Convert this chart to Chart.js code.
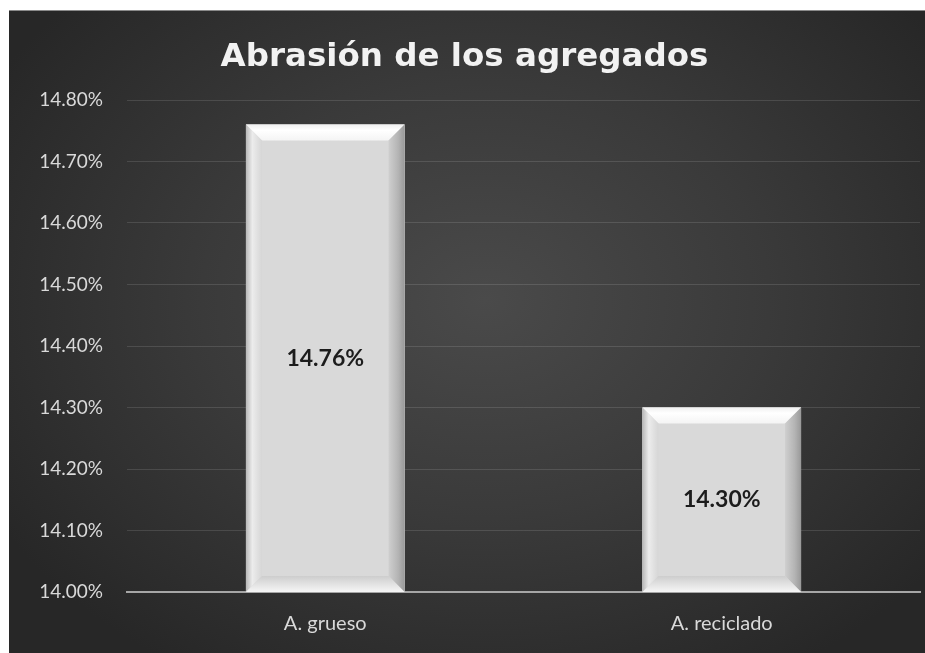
<!DOCTYPE html>
<html>
<head>
<meta charset="utf-8">
<script src="https://cdn.jsdelivr.net/npm/chart.js@4.4.0/dist/chart.umd.min.js"></script>
<style>
  html, body { margin: 0; padding: 0; background: #ffffff; width: 925px; height: 653px; overflow: hidden; }
  #wrap {
    position: absolute; left: 9px; top: 10px; width: 916px; height: 643px;
    background: radial-gradient(ellipse 62% 68% at 52% 45%, #4a4a4a 0%, #3a3a3a 50%, #272727 100%);
    border-top: 1px solid #8a8a8a;
    box-sizing: border-box;
  }
  canvas { display: block; }
</style>
</head>
<body>
<div id="wrap"><canvas id="c" width="916" height="642"></canvas></div>
<script>
const titleText = "Abrasión de los agregados";
const categories = ["A. grueso", "A. reciclado"];
const values = [14.76, 14.30];
const yMin = 14.0, yMax = 14.8, yStep = 0.1;

const fmt = v => Number(v).toFixed(2) + "%";

const bevelPlugin = {
  id: "bevel",
  afterDatasetsDraw(chart) {
    const ctx = chart.ctx;
    const meta = chart.getDatasetMeta(0);
    meta.data.forEach((bar, i) => {
      const p = bar.getProps(["x", "y", "base", "width"], true);
      const l = p.x - p.width / 2, r = p.x + p.width / 2, t = p.y;
      const b = Math.min(p.base, chart.chartArea.bottom);
      const d = 16;
      ctx.save();
      ctx.fillStyle = "#d9d9d9";
      ctx.fillRect(l, t, r - l, b - t);
      // top bevel
      ctx.beginPath(); ctx.moveTo(l, t); ctx.lineTo(r, t); ctx.lineTo(r - d, t + d); ctx.lineTo(l + d, t + d); ctx.closePath();
      let g = ctx.createLinearGradient(0, t, 0, t + d);
      g.addColorStop(0, "#f0f0f0"); g.addColorStop(0.35, "#ffffff"); g.addColorStop(1, "#f4f4f4");
      ctx.fillStyle = g; ctx.fill();
      // left bevel
      ctx.beginPath(); ctx.moveTo(l, t); ctx.lineTo(l + d, t + d); ctx.lineTo(l + d, b - d); ctx.lineTo(l, b); ctx.closePath();
      g = ctx.createLinearGradient(l, 0, l + d, 0);
      g.addColorStop(0, "#b8b8b8"); g.addColorStop(0.4, "#ececec"); g.addColorStop(1, "#d6d6d6");
      ctx.fillStyle = g; ctx.fill();
      // right bevel
      ctx.beginPath(); ctx.moveTo(r, t); ctx.lineTo(r - d, t + d); ctx.lineTo(r - d, b - d); ctx.lineTo(r, b); ctx.closePath();
      g = ctx.createLinearGradient(r - d, 0, r, 0);
      g.addColorStop(0, "#cfcfcf"); g.addColorStop(0.6, "#b4b4b4"); g.addColorStop(1, "#999999");
      ctx.fillStyle = g; ctx.fill();
      // bottom bevel
      ctx.beginPath(); ctx.moveTo(l, b); ctx.lineTo(l + d, b - d); ctx.lineTo(r - d, b - d); ctx.lineTo(r, b); ctx.closePath();
      g = ctx.createLinearGradient(0, b - d, 0, b);
      g.addColorStop(0, "#cdcdcd"); g.addColorStop(0.5, "#e2e2e2"); g.addColorStop(1, "#f6f6f6");
      ctx.fillStyle = g; ctx.fill();
      // value label
      ctx.fillStyle = "#1c1c1c";
      ctx.font = "bold 23px Lato";
      ctx.textAlign = "center"; ctx.textBaseline = "middle";
      ctx.fillText(fmt(values[i]), p.x, (t + b) / 2);
      ctx.restore();
    });
  }
};

new Chart(document.getElementById("c"), {
  type: "bar",
  data: {
    labels: categories,
    datasets: [{
      data: values,
      backgroundColor: "#d9d9d9",
      borderWidth: 0,
      categoryPercentage: 1.0,
      barPercentage: 0.4
    }]
  },
  options: {
    responsive: false,
    animation: false,
    layout: { padding: { left: 0, right: 5, top: 0, bottom: 16 } },
    plugins: {
      legend: { display: false },
      tooltip: { enabled: false },
      title: {
        display: true,
        text: titleText,
        color: "#f2f2f2",
        font: { family: "DejaVu Sans", size: 32.5, weight: "bold" },
        padding: { top: 27, bottom: 23 }
      }
    },
    scales: {
      x: {
        afterFit(scale) { scale.height = 45; },
        grid: { display: false, drawTicks: false },
        border: { display: true, color: "#a6a6a6", width: 2 },
        ticks: { color: "#d9d9d9", font: { family: "Lato", size: 20 }, padding: 20 }
      },
      y: {
        min: yMin, max: yMax,
        afterFit(scale) { scale.width = 118; },
        grid: { color: "rgba(255,255,255,0.12)", drawTicks: false, lineWidth: 1 },
        border: { display: false },
        ticks: {
          stepSize: yStep,
          color: "#d9d9d9",
          font: { family: "Lato", size: 19 },
          padding: 24,
          callback: v => fmt(v)
        }
      }
    }
  },
  plugins: [bevelPlugin]
});
</script>
</body>
</html>
